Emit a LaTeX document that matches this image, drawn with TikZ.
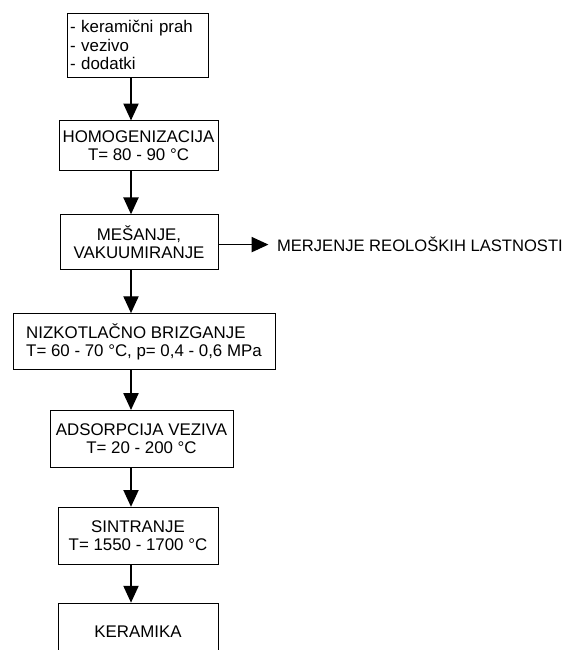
\documentclass[tikz,border=0pt]{standalone}
\usepackage{fontspec}
\setmainfont{Liberation Sans}
\usetikzlibrary{arrows.meta,positioning}

\begin{document}
\begin{tikzpicture}[
    box/.style={draw, line width=0.6pt, minimum height=1.4cm, inner xsep=0.075cm, font=\fontsize{12}{13}\selectfont, align=center},
    >={Triangle[length=0.42cm, width=0.38cm]}, line width=0.9pt
]
\useasboundingbox (0,0) rectangle (14.175,-16.25);
\coordinate (ax) at (3.275,0);
\node[box, text width=3.375cm, minimum height=1.6cm, align=left] (mix) at (3.4375,-1.125) {- keramični prah\\- vezivo\\- dodatki};
\node[box, minimum width=3.975cm, minimum height=1.25cm, below=1.075cm of mix, xshift=0.025cm] (homog) {HOMOGENIZACIJA\\T= 80 - 90 °C};
\node[box, minimum width=3.95cm, minimum height=1.375cm, below=1.075cm of homog, xshift=0.0125cm] (vac) {MEŠANJE,\\VAKUUMIRANJE};
\node[box, minimum width=6.55cm, align=left, below=1.075cm of vac, xshift=0.125cm] (inject) {NIZKOTLAČNO BRIZGANJE\\T= 60 - 70 °C, p= 0,4 - 0,6 MPa};
\node[box, minimum width=4.575cm, minimum height=1.425cm, below=1.0cm of inject, xshift=-0.0625cm] (debind) {ADSORPCIJA VEZIVA\\T= 20 - 200 °C};
\node[box, minimum width=4.0cm, minimum height=1.425cm, below=0.975cm of debind, xshift=-0.0875cm] (sinter) {SINTRANJE\\T= 1550 - 1700 °C};
\node[box, minimum width=4.0cm, minimum height=1.45cm, below=0.95cm of sinter] (ceram) {KERAMIKA};
\node[inner sep=0pt, font=\fontsize{11.8}{13}\selectfont, right=1.45cm of vac, yshift=-0.06cm] (rheo) {MERJENJE REOLOŠKIH LASTNOSTI};
\draw[->] (mix.south -| ax) -- (homog.north -| ax);
\draw[->] (homog.south -| ax) -- (vac.north -| ax);
\draw[->] (vac.south -| ax) -- (inject.north -| ax);
\draw[->] (inject.south -| ax) -- (debind.north -| ax);
\draw[->] (debind.south -| ax) -- (sinter.north -| ax);
\draw[->] (sinter.south -| ax) -- (ceram.north -| ax);
\draw[->, shorten >=0.2cm] (vac.east |- rheo) -- (rheo);
\end{tikzpicture}
\end{document}
